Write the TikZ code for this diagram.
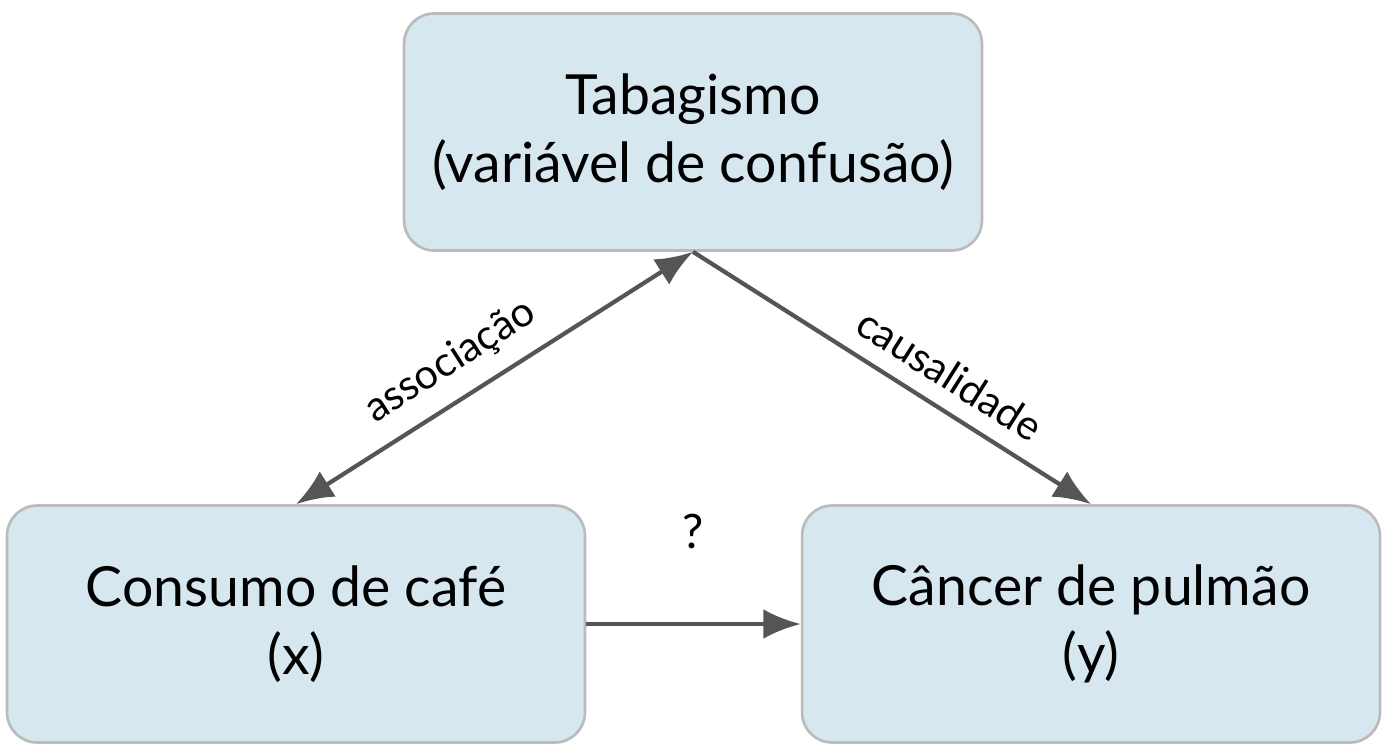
\documentclass[tikz,border=0pt]{standalone}
\usepackage{fontspec}
\setmainfont{Lato}
\usetikzlibrary{arrows.meta}
\definecolor{boxfill}{HTML}{D6E7EF}
\definecolor{boxline}{HTML}{BBBBBB}
\definecolor{arrowgray}{HTML}{555555}
\tikzset{
  box/.style={draw=boxline,line width=1.5pt,fill=boxfill,rounded corners=0.6cm,
    minimum width=11.56cm,minimum height=4.74cm,align=center,font=\fontsize{31.5}{39}\selectfont},
  link/.style={draw=arrowgray,line width=2.4pt,-{Latex[length=0.75cm,width=0.6cm]}},
  tag/.style={font=\fontsize{23.5}{28}\selectfont,text=black}
}
\begin{document}
\begin{tikzpicture}[x=0.02cm,y=-0.02cm]
\useasboundingbox (0,0) rectangle (1382,752);
\node[box] (smoke) at (693,132) {Tabagismo\\(variável de confusão)};
\node[box] (coffee) at (296,624) {Consumo de café\\(x)};
\node[box] (cancer) at (1091,624) {Câncer de pulmão\\(y)};
% arrows
\draw[link,{Latex[length=0.75cm,width=0.6cm]}-{Latex[length=0.75cm,width=0.6cm]}] (smoke.south) -- node[tag,pos=0.56,sloped,above,yshift=6pt]{associação} (coffee.north);
\draw[link] (smoke.south) -- node[tag,pos=0.6,sloped,above,yshift=6pt]{causalidade} (cancer.north);
\draw[link] (coffee.east) -- node[tag,midway,above,yshift=38pt,font=\fontsize{27}{30}\selectfont]{?} (cancer.west);
\end{tikzpicture}
\end{document}
